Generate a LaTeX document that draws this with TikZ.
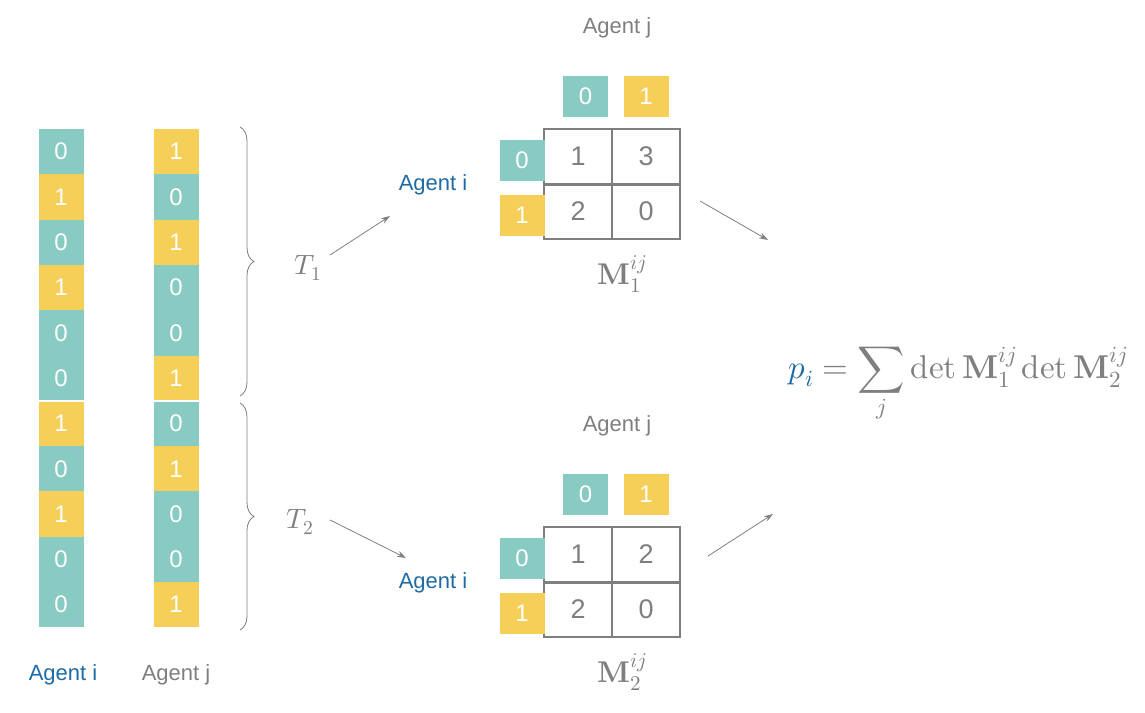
\documentclass[tikz,border=0pt]{standalone}
\usepackage{fontspec}
\usepackage{unicode-math}
\setmainfont{Liberation Sans}
\setmathfont{Latin Modern Math}
\usetikzlibrary{decorations.pathreplacing,arrows.meta}
\definecolor{tl}{HTML}{88CBC2}
\definecolor{yl}{HTML}{F5CF57}
\definecolor{gt}{HTML}{7F7F7F}
\definecolor{bl}{HTML}{1F6BA5}
\begin{document}
\begin{tikzpicture}[x=1pt,y=-1pt,
 cell/.style={minimum width=45pt,minimum height=45.3pt,inner sep=0,text=white,font=\fontsize{24}{24}\selectfont},
 hc/.style={minimum width=45pt,minimum height=41pt,inner sep=0,text=white,font=\fontsize{24}{24}\selectfont},
 mc/.style={minimum width=68pt,minimum height=55pt,inner sep=0,text=gt,font=\fontsize{27}{27}\selectfont},
 lab/.style={font=\fontsize{22}{22}\selectfont},
 arr/.style={-{Stealth[length=9pt,width=6pt]},gt,line width=0.8pt},
 br/.style={decorate,decoration={brace,amplitude=14pt},gt,line width=0.8pt}]
\useasboundingbox (0,0) rectangle (1145,712);
\foreach \v [count=\k] in {0,1,0,1,0,0,1,0,1,0,0}{
 \ifnum\v=0 \def\c{tl}\else\def\c{yl}\fi
 \node[cell,fill=\c] (a\k) at (61,{129+45.3*(\k-0.5)}) {\v};}
\foreach \v [count=\k] in {1,0,1,0,0,1,0,1,0,0,1}{
 \ifnum\v=0 \def\c{tl}\else\def\c{yl}\fi
 \node[cell,fill=\c] (b\k) at (176,{129+45.3*(\k-0.5)}) {\v};}
\draw[white,line width=2pt] (36,400.8) -- (202,400.8);
\node[lab,text=bl] (ai) at (63,675) {Agent i};
\node[lab,text=gt] (aj) at (176,675) {Agent j};
\draw[br] (240,127) -- (240,396);
\draw[br] (240,403) -- (240,630);
\node[text=gt,font=\fontsize{28}{28}\selectfont] (t1) at (308,268) {$T_1$};
\node[text=gt,font=\fontsize{28}{28}\selectfont] (t2) at (300,522) {$T_2$};
\foreach \yy/\ii/\a/\b/\c/\d in {129/1/1/3/2/0, 527/2/1/2/2/0}{
 \node[mc] (m\ii a) at (578,\yy+27.5) {\a};
 \node[mc] (m\ii b) at (646,\yy+27.5) {\b};
 \node[mc] (m\ii c) at (578,\yy+82.5) {\c};
 \node[mc] (m\ii d) at (646,\yy+82.5) {\d};
 \draw[gt,line width=1.5pt] (544,\yy) rectangle (680,\yy+110);
 \draw[gt,line width=1.5pt] (612,\yy) -- (612,\yy+110);
 \draw[gt,line width=3pt] (544,\yy+55) -- (680,\yy+55);
 \node[hc,fill=tl] (h\ii0) at (585.5,\yy-33) {0};
 \node[hc,fill=yl] (h\ii1) at (646,\yy-33) {1};
 \node[hc,fill=tl] (r\ii0) at (522,\yy+31) {0};
 \node[hc,fill=yl] (r\ii1) at (522,\yy+86) {1};
 \node[lab,text=gt] (aj\ii) at (617,\yy-101) {Agent j};
 \node[lab,text=bl] (ai\ii) at (433,\yy+56) {Agent i};
 \node[text=gt,font=\fontsize{30}{30}\selectfont] (M\ii) at (622,\yy+145) {$\symbf{M}_\ii^{ij}$};
}
\draw[arr] (330,255) -- (390,216);
\draw[arr] (330,520) -- (406,558);
\draw[arr] (700,201) -- (768,240);
\draw[arr] (708,556) -- (773,514);
\node[text=gt,font=\fontsize{33}{33}\selectfont] (f) at (958,385) {$\color{bl}p_i\color{gt} = \displaystyle\sum_j \symup{det}\,\symbf{M}_1^{ij}\,\symup{det}\,\symbf{M}_2^{ij}$};
\end{tikzpicture}
\end{document}
